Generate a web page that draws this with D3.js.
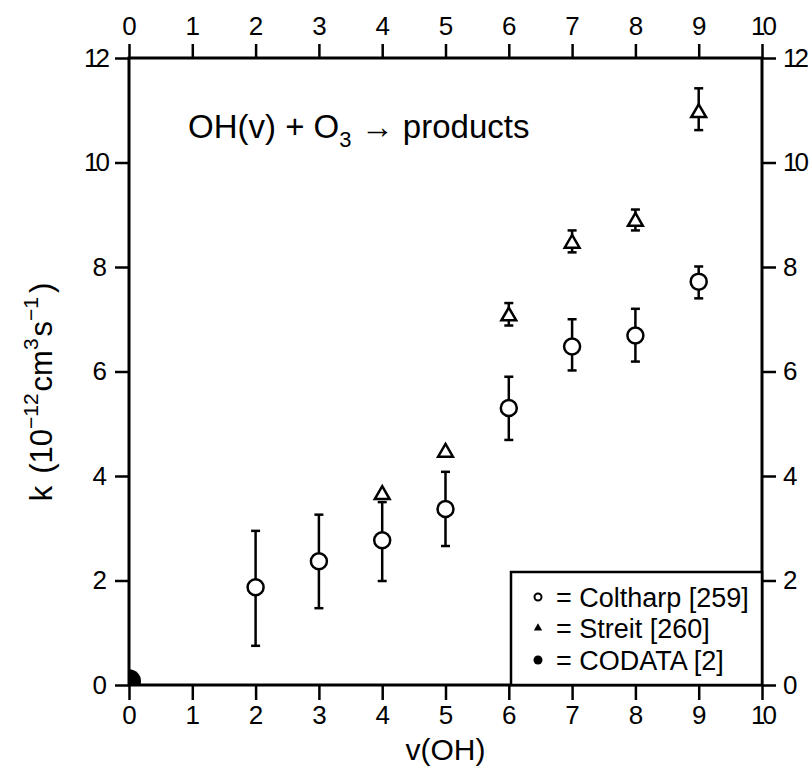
<!DOCTYPE html>
<html>
<head>
<meta charset="utf-8">
<script src="https://cdn.jsdelivr.net/npm/d3@7"></script>
<style>
  body { margin: 0; background: #fff; }
  svg text { font-family: "Liberation Sans", Arial, sans-serif; fill: #000; }
</style>
</head>
<body>
<div id="chart"></div>
<script>
// Coltharp [259]
const coltharpV = [2, 3, 4, 5, 6, 7, 8, 9];
const coltharpK = [1.87, 2.37, 2.77, 3.37, 5.3, 6.48, 6.69, 7.72];
const coltharpLo = [0.75, 1.47, 1.99, 2.66, 4.69, 6.02, 6.19, 7.4];
const coltharpHi = [2.95, 3.26, 3.5, 4.08, 5.9, 7.0, 7.2, 8.01];
// Streit [260]
const streitV = [4, 5, 6, 7, 8, 9];
const streitK = [3.66, 4.47, 7.08, 8.47, 8.89, 10.97];
const streitLo = [null, null, 6.88, 8.28, 8.7, 10.62];
const streitHi = [null, null, 7.31, 8.7, 9.1, 11.42];
// CODATA [2]
const codataV = [0];
const codataK = [0.07];

const xTicks = [0, 1, 2, 3, 4, 5, 6, 7, 8, 9, 10];
const yTicks = [0, 2, 4, 6, 8, 10, 12];
const legendLabels = ["= Coltharp [259]", "= Streit [260]", "= CODATA [2]"];

const width = 810, height = 778;
const pL = 129, pR = 762, pT = 58, pB = 685;

const svg = d3.select("#chart").append("svg")
  .attr("width", width).attr("height", height);

const x = d3.scaleLinear().domain([0, 10]).range([pL, pR]);
const y = d3.scaleLinear().domain([0, 12]).range([pB, pT]);

function styleAxis(g) {
  g.select(".domain").remove();
  g.selectAll(".tick line").attr("stroke", "#000").attr("stroke-width", 2.5);
  g.selectAll(".tick text").style("font-size", "26px")
    .style("letter-spacing", d => d >= 10 ? "-3px" : null);
}

svg.append("g").attr("transform", `translate(0,${pB})`)
  .call(d3.axisBottom(x).tickValues(xTicks).tickSize(15).tickPadding(6).tickFormat(d3.format("d")))
  .call(styleAxis);
svg.append("g").attr("transform", `translate(0,${pT})`)
  .call(d3.axisTop(x).tickValues(xTicks).tickSize(14).tickPadding(9).tickFormat(d3.format("d")))
  .call(styleAxis);
svg.append("g").attr("transform", `translate(${pL},0)`)
  .call(d3.axisLeft(y).tickValues(yTicks).tickSize(14).tickPadding(8).tickFormat(d3.format("d")))
  .call(styleAxis);
svg.append("g").attr("transform", `translate(${pR},0)`)
  .call(d3.axisRight(y).tickValues(yTicks).tickSize(14).tickPadding(7).tickFormat(d3.format("d")))
  .call(styleAxis);

// frame
svg.append("rect")
  .attr("x", pL).attr("y", pT)
  .attr("width", pR - pL).attr("height", pB - pT)
  .attr("fill", "none").attr("stroke", "#000").attr("stroke-width", 3);

// CODATA point, clipped to plot area
svg.append("clipPath").attr("id", "plotclip")
  .append("rect").attr("x", pL).attr("y", pT)
  .attr("width", pR - pL).attr("height", pB - pT);
svg.append("g").attr("clip-path", "url(#plotclip)")
  .selectAll("circle").data(codataV).join("circle")
  .attr("cx", d => x(d)).attr("cy", (d, i) => y(codataK[i]))
  .attr("r", 12).attr("fill", "#000");

// error bars
function errorBars(vs, lo, hi) {
  const g = svg.append("g").attr("stroke", "#000").attr("stroke-width", 2.5);
  vs.forEach((v, i) => {
    if (lo[i] == null) return;
    const cx = x(v);
    g.append("line").attr("x1", cx).attr("x2", cx).attr("y1", y(lo[i])).attr("y2", y(hi[i]));
    g.append("line").attr("x1", cx - 4.5).attr("x2", cx + 4.5).attr("y1", y(lo[i])).attr("y2", y(lo[i]));
    g.append("line").attr("x1", cx - 4.5).attr("x2", cx + 4.5).attr("y1", y(hi[i])).attr("y2", y(hi[i]));
  });
}
errorBars(coltharpV, coltharpLo, coltharpHi);
errorBars(streitV, streitLo, streitHi);

// Coltharp circles
svg.append("g").selectAll("circle").data(coltharpV).join("circle")
  .attr("cx", d => x(d)).attr("cy", (d, i) => y(coltharpK[i]))
  .attr("r", 8).attr("fill", "#fff").attr("stroke", "#000").attr("stroke-width", 2.5);

// Streit triangles
const tri = d3.symbol().type(d3.symbolTriangle).size(95);
svg.append("g").selectAll("path").data(streitV).join("path")
  .attr("d", tri)
  .attr("transform", (d, i) => `translate(${x(d)},${y(streitK[i]) + 1})`)
  .attr("fill", "#fff").attr("stroke", "#000").attr("stroke-width", 2.5);

// reaction label
const title = svg.append("text").attr("x", 188).attr("y", 138).style("font-size", "33px");
title.append("tspan").text("OH(v) + O");
title.append("tspan").attr("dy", 9).style("font-size", "22px").text("3");
title.append("tspan").attr("dy", -9).text(" \u2192 products");

// axis titles
svg.append("text").attr("x", (pL + pR) / 2).attr("y", 760)
  .attr("text-anchor", "middle").style("font-size", "30px").text("v(OH)");

const yt = svg.append("text")
  .attr("transform", "translate(52,392) rotate(-90)")
  .attr("text-anchor", "middle").style("font-size", "31px");
yt.append("tspan").text("k");
yt.append("tspan").attr("dx", 12).text("(10");
yt.append("tspan").attr("dy", -14).style("font-size", "21px").text("\u221212");
yt.append("tspan").attr("dy", 14).attr("dx", 2).text("cm");
yt.append("tspan").attr("dy", -14).style("font-size", "21px").text("3");
yt.append("tspan").attr("dy", 14).attr("dx", 2).text("s");
yt.append("tspan").attr("dy", -14).style("font-size", "21px").text("\u22121");
yt.append("tspan").attr("dy", 14).attr("dx", 4).text(")");

// legend
const lg = svg.append("g");
lg.append("rect").attr("x", 511).attr("y", 572)
  .attr("width", pR - 511).attr("height", pB - 572)
  .attr("fill", "#fff").attr("stroke", "#000").attr("stroke-width", 2.5);
const rows = [597, 628, 660];
lg.append("circle").attr("cx", 538).attr("cy", rows[0]).attr("r", 3.5)
  .attr("fill", "#fff").attr("stroke", "#000").attr("stroke-width", 2);
lg.append("path").attr("d", d3.symbol().type(d3.symbolTriangle).size(30))
  .attr("transform", `translate(538,${rows[1]})`).attr("fill", "#000");
lg.append("circle").attr("cx", 538).attr("cy", rows[2]).attr("r", 4.5).attr("fill", "#000");
lg.selectAll("text").data(legendLabels).join("text")
  .attr("x", 556).attr("y", (d, i) => rows[i] + 10)
  .style("font-size", "27px").text(d => d);
</script>
</body>
</html>
